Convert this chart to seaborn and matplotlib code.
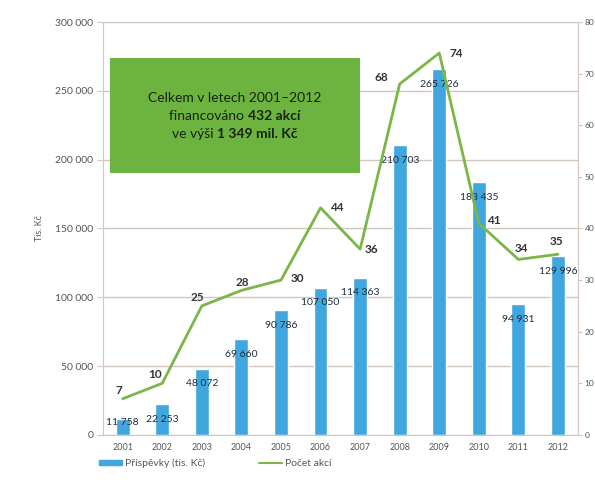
import matplotlib
matplotlib.use("Agg")
import matplotlib.pyplot as plt
import matplotlib.patches as mpatches
import matplotlib.lines as mlines
from matplotlib.ticker import FuncFormatter
import seaborn as sns
import numpy as np

years = ["2001", "2002", "2003", "2004", "2005", "2006",
         "2007", "2008", "2009", "2010", "2011", "2012"]
contributions = [11758, 22253, 48072, 69660, 90786, 107050,
                 114363, 210703, 265726, 183435, 94931, 129996]
actions = [7, 10, 25, 28, 30, 44, 36, 68, 74, 41, 34, 35]

bar_color = "#3fa7dd"
line_color = "#7ab648"
grid_color = "#d3c6bf"
font = "Lato"

def spaced(v, pos=None):
    return "{:,}".format(int(v)).replace(",", " ")

sns.set_style("white")
plt.rcParams["font.family"] = [font, "DejaVu Sans"]

fig = plt.figure(figsize=(5.95, 4.8), dpi=100)
ax = fig.add_axes([0.173, 0.094, 0.798, 0.860])

sns.barplot(x=years, y=contributions, color=bar_color, width=0.35,
            saturation=1, ax=ax, zorder=2)
ax.set_ylim(0, 300000)
ax.set_xlim(-0.5, len(years) - 0.5)
ax.yaxis.set_major_formatter(FuncFormatter(spaced))
ax.set_yticks(np.arange(0, 300001, 50000))
ax.grid(axis="y", color=grid_color, linewidth=1, zorder=0)
ax.set_axisbelow(True)
for s in ["top", "right"]:
    ax.spines[s].set_visible(False)
ax.spines["left"].set_color(grid_color)
ax.spines["bottom"].set_color(grid_color)
ax.tick_params(axis="y", labelsize=7.5, colors="#555555", length=4,
               width=0.8, direction="out", left=True, color=grid_color, pad=3)
ax.tick_params(axis="x", labelsize=6.5, colors="#555555", length=0, pad=6)
ax.set_xlabel("")
ax.set_ylabel("Tis. Kč", fontsize=6.5, color="#555555", labelpad=8)

for i, v in enumerate(contributions):
    ax.text(i, max(v - 11000, 8700), spaced(v), ha="center", va="center",
            fontsize=7.5, color="#1f2d3d", zorder=5)

ax2 = ax.twinx()
sns.lineplot(x=np.arange(len(years)), y=actions, color=line_color,
             linewidth=2, ax=ax2, zorder=3)
ax2.set_ylim(0, 80)
ax2.set_xlim(-0.5, len(years) - 0.5)
ax2.set_yticks(np.arange(0, 81, 10))
for s in ["top", "left", "bottom"]:
    ax2.spines[s].set_visible(False)
ax2.spines["right"].set_color(grid_color)
ax2.tick_params(axis="y", labelsize=6, colors="#555555", length=3,
                width=0.8, direction="out", right=True, color=grid_color, pad=2)
ax2.set_ylabel("")

# label offsets in points (dx, dy)
offsets = [(-3, 6), (-5, 6), (-3, 6), (1, 6), (12, 1), (12, 0),
           (8, 0), (-13, 5), (12, 0), (11, 2), (2, 8), (-1, 9)]
for i, (v, off) in enumerate(zip(actions, offsets)):
    ax2.annotate(str(v), (i, v), xytext=off, textcoords="offset points",
                 ha="center", va="center", fontsize=8.5, color="#333333",
                 fontweight="bold", zorder=6)

# green summary box
box = mpatches.Rectangle((0.015, 0.634), 0.526, 0.279, transform=ax2.transAxes,
                         facecolor="#6cb33f", edgecolor="none", zorder=4)
ax2.add_patch(box)

lines = [
    [("Celkem v letech 2001–2012", "normal")],
    [("financováno ", "normal"), ("432 akcí", "bold")],
    [("ve výši ", "normal"), ("1 349 mil. Kč", "bold")],
]
cx = 0.015 + 0.526 / 2
cy = 0.634 + 0.279 / 2
fig.canvas.draw()
renderer = fig.canvas.get_renderer()
line_h = 18
box_fs = 10
for li, parts in enumerate(lines):
    ypix = ax2.transAxes.transform((cx, cy))[1] + (1 - li) * line_h
    widths = []
    for txt, w in parts:
        t = fig.text(0, 0, txt, fontsize=box_fs, fontweight=w)
        widths.append(t.get_window_extent(renderer).width)
        t.remove()
    xpix = ax2.transAxes.transform((cx, cy))[0] - sum(widths) / 2
    for (txt, w), wd in zip(parts, widths):
        fx, fy = fig.transFigure.inverted().transform((xpix, ypix))
        fig.text(fx, fy, txt, fontsize=box_fs, fontweight=w, color="#17240f",
                 ha="left", va="center", zorder=7)
        xpix += wd

# legend
h_bar = mpatches.Patch(color=bar_color, label="Příspěvky (tis. Kč)")
h_line = mlines.Line2D([], [], color=line_color, linewidth=1.5, label="Počet akcí")
fig.legend(handles=[h_bar, h_line], loc="lower left", bbox_to_anchor=(0.15, 0.005),
           ncol=2, frameon=False, fontsize=7.5, labelcolor="#555555",
           columnspacing=5.2, handlelength=2.2, handleheight=0.5, handletextpad=0.3)

fig.savefig("out.png", dpi=100)
